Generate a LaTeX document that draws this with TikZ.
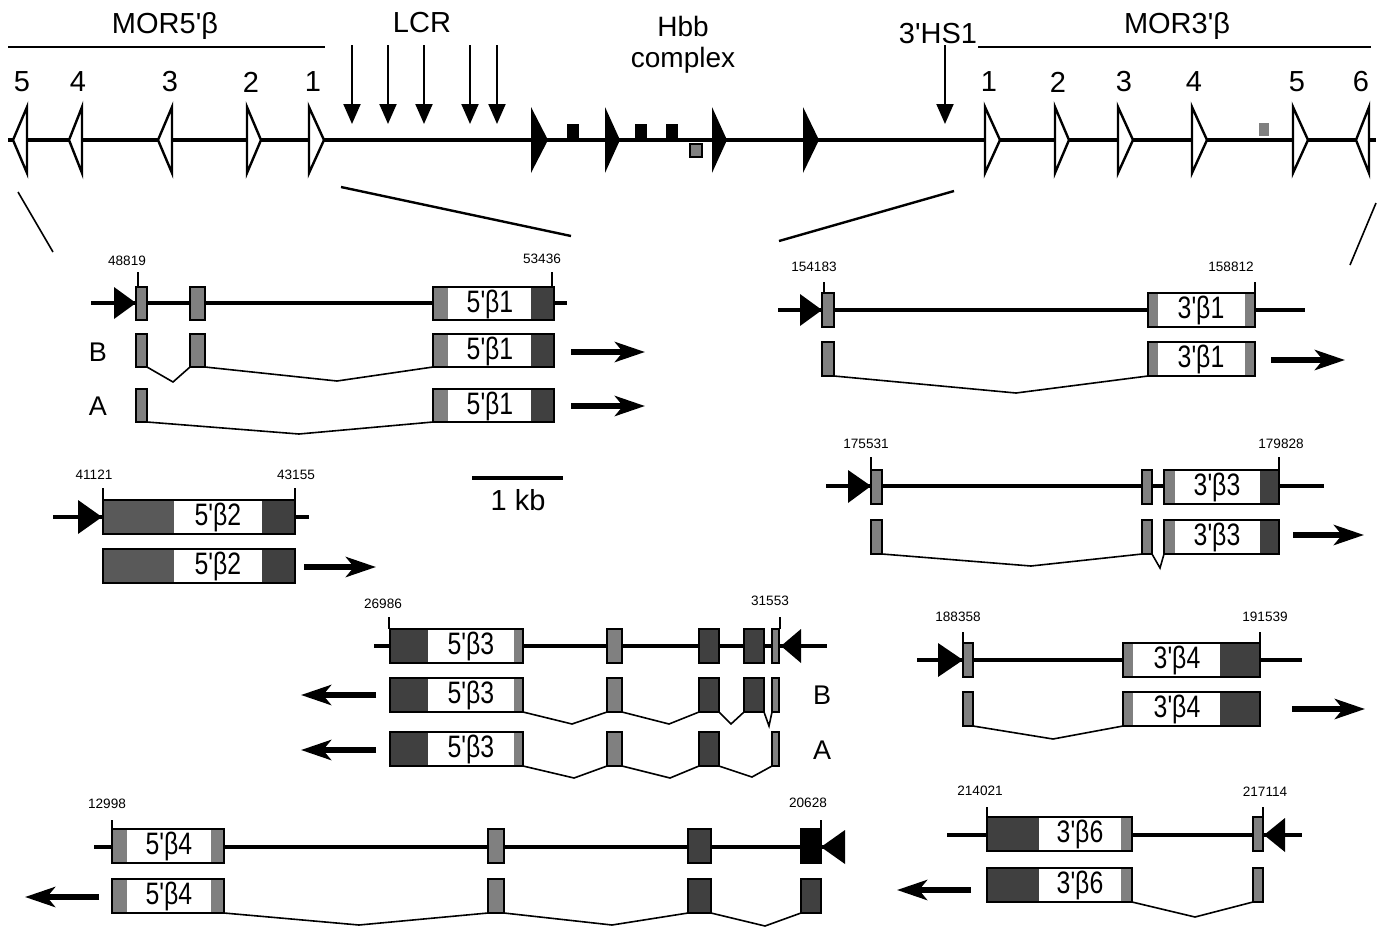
\documentclass[tikz,border=0pt]{standalone}
\usepackage{fontspec}
\setmainfont{Liberation Sans}[Ligatures=TeXOff]
\newfontfamily\genefont{Liberation Sans}[Ligatures=TeXOff,FakeStretch=0.8]
\usepackage{tikz}
\usetikzlibrary{arrows.meta}
\definecolor{exon mid}{gray}{0.5}
\definecolor{exon dark}{gray}{0.25}
\definecolor{exon deep}{gray}{0.35}
\newcommand{\q}{'}

\begin{document}
\begin{tikzpicture}[x=0.5pt, y=-0.5pt,
    font=\fontsize{14.5}{16}\selectfont,
    chrom/.style={line width=1.8pt},
    gline/.style={line width=1.7pt},
    boxline/.style={line width=1.1pt},
    exonbox/.style={draw, line width=1.1pt, fill=exon mid},
    darkbox/.style={draw, line width=1.1pt, fill=exon dark},
    splice/.style={line width=0.8pt},
    tickline/.style={line width=0.6pt},
    orf/.style={draw, line width=1.2pt, fill=white, line join=miter},
    hsarrow/.style={line width=1pt, -{Triangle[length=10pt,width=8.5pt]}},
    dirarrow/.style={line width=3pt, -{Stealth[length=15pt,width=10pt,inset=4pt]}},
    coordlbl/.style={font=\fontsize{6.8}{7}\selectfont},
    gname/.style={font=\genefont\fontsize{15.5}{16}\selectfont},
    iso/.style={font=\fontsize{13.5}{15}\selectfont}]
\useasboundingbox (0,0) rectangle (1388,928);

% locus overview
\draw[line width=0.8pt] (8,47) -- (325,47);
\draw[line width=0.8pt] (978,47) -- (1371,47);
\node (mor5) at (165,26) {MOR5\q β};
\node (mor3) at (1177,26) {MOR3\q β};
\node (lcr) at (422,23) {LCR};
\node[align=center, font=\fontsize{14}{15.5}\selectfont] (hbb) at (683,45) {Hbb\\complex};
\node (hs1) at (938,34) {3\q HS1};
\draw[chrom] (8,140) -- (1376,140);
\foreach \b/\t in {27/13, 82/69, 172/158, 247/261, 309/324, 985/1000, 1055/1069, 1118/1133, 1192/1207, 1293/1308, 1369/1356}
  \draw[orf] (\b,107) -- (\t,140) -- (\b,173) -- cycle;
\foreach \x/\n in {22/5, 78/4, 170/3, 251/2, 313/1}
  \node (l\n) at (\x,82) {\n};
\foreach \x/\n in {989/1, 1058/2, 1124/3, 1194/4, 1297/5, 1361/6}
  \node (r\n) at (\x,82) {\n};
\foreach \x in {352,388,424,470,497,945}
  \draw[hsarrow] (\x,45) -- (\x,124);
\foreach \b/\t in {531/548, 605/620, 712/727, 803/819}
  \fill (\b,107) -- (\t,140) -- (\b,173) -- cycle;
\fill (567,124) rectangle (579,140);
\fill (635,124) rectangle (647,140);
\fill (666,124) rectangle (678,140);
\draw[fill=exon mid, line width=0.8pt] (690,144) rectangle (702,157);
\fill[exon mid] (1259,123) rectangle (1269,136);
\draw[line width=0.8pt] (18,192) -- (53,252);
\draw[line width=1.2pt] (341,187) -- (571,236);
\draw[line width=1.2pt] (779,241) -- (954,191);
\draw[line width=0.8pt] (1376,203) -- (1350,265);

% scale
\draw[line width=2pt] (472,478) -- (563,478);
\node (kb) at (518,500) {1 kb};

% 5'b1
\node[coordlbl] (p48819) at (127,261) {48819};
\node[coordlbl] (p53436) at (542,259) {53436};
\draw[tickline] (138,272) -- (138,287) (552,272) -- (552,287);
\draw[gline] (91,303) -- (567,303);
\fill (114,287) -- (136,303) -- (114,319) -- cycle;
\foreach \y in {287,334,389} {
  \fill[white] (433,\y) rectangle (554,\y+33);
  \fill[exon mid] (433,\y) rectangle (448,\y+33);
  \fill[exon dark] (531,\y) rectangle (554,\y+33);
  \draw[boxline] (433,\y) rectangle (554,\y+33);
  \node[gname] (g51\y) at (490,\y+17) {5\q β1};
  \draw[exonbox] (136,\y) rectangle (147,\y+33);
}
\foreach \y in {287,334}
  \draw[exonbox] (190,\y) rectangle (205,\y+33);
\draw[splice] (147,367) -- (173,382) -- (190,367) (205,367) -- (337,381) -- (433,367);
\draw[splice] (147,422) -- (299,434) -- (433,422);
\node[iso] (b1B) at (98,352) {B};
\node[iso] (b1A) at (98,406) {A};
\draw[dirarrow] (571,352) -- (645,352);
\draw[dirarrow] (571,406) -- (645,406);

% 3'b1
\node[coordlbl] (p154183) at (814,267) {154183};
\node[coordlbl] (p158812) at (1231,267) {158812};
\draw[tickline] (824,282) -- (824,293) (1255,282) -- (1255,293);
\draw[gline] (778,310) -- (1305,310);
\fill (800,294) -- (822,310) -- (800,326) -- cycle;
\foreach \y in {293,342} {
  \fill[white] (1148,\y) rectangle (1255,\y+34);
  \fill[exon mid] (1148,\y) rectangle (1158,\y+34);
  \fill[exon mid] (1245,\y) rectangle (1255,\y+34);
  \draw[boxline] (1148,\y) rectangle (1255,\y+34);
  \node[gname] (g31\y) at (1201,\y+17) {3\q β1};
  \draw[exonbox] (822,\y) rectangle (834,\y+34);
}
\draw[splice] (834,376) -- (1016,393) -- (1148,376);
\draw[dirarrow] (1271,360) -- (1345,360);

% 5'b2
\node[coordlbl] (p41121) at (94,475) {41121};
\node[coordlbl] (p43155) at (296,475) {43155};
\draw[tickline] (103,488) -- (103,500) (295,488) -- (295,500);
\draw[gline] (53,517) -- (309,517);
\fill (78,500) -- (102,517) -- (78,534) -- cycle;
\foreach \y in {500,549} {
  \fill[white] (103,\y) rectangle (295,\y+34);
  \fill[exon deep] (103,\y) rectangle (174,\y+34);
  \fill[exon dark] (262,\y) rectangle (295,\y+34);
  \draw[boxline] (103,\y) rectangle (295,\y+34);
  \node[gname] (g52\y) at (218,\y+17) {5\q β2};
}
\draw[dirarrow] (304,567) -- (376,567);

% 3'b3
\node[coordlbl] (p175531) at (866,444) {175531};
\node[coordlbl] (p179828) at (1281,444) {179828};
\draw[tickline] (871,457) -- (871,470) (1279,457) -- (1279,470);
\draw[gline] (826,486) -- (1324,486);
\fill (848,470) -- (871,486) -- (848,503) -- cycle;
\foreach \y in {470,520} {
  \fill[white] (1164,\y) rectangle (1279,\y+34);
  \fill[exon mid] (1164,\y) rectangle (1175,\y+34);
  \fill[exon dark] (1260,\y) rectangle (1279,\y+34);
  \draw[boxline] (1164,\y) rectangle (1279,\y+34);
  \node[gname] (g33\y) at (1217,\y+17) {3\q β3};
  \draw[exonbox] (871,\y) rectangle (882,\y+34);
  \draw[exonbox] (1142,\y) rectangle (1152,\y+34);
}
\draw[splice] (882,554) -- (1031,566) -- (1142,554) (1152,554) -- (1160,568) -- (1164,554);
\draw[dirarrow] (1293,535) -- (1364,535);

% 5'b3
\node[coordlbl] (p26986) at (383,604) {26986};
\node[coordlbl] (p31553) at (770,601) {31553};
\draw[tickline] (389,617) -- (389,629) (780,617) -- (780,629);
\draw[gline] (374,646) -- (827,646);
\fill (801,629) -- (781,646) -- (801,663) -- cycle;
\foreach \y in {629,678,732} {
  \fill[white] (390,\y) rectangle (523,\y+34);
  \fill[exon dark] (390,\y) rectangle (428,\y+34);
  \fill[exon mid] (514,\y) rectangle (523,\y+34);
  \draw[boxline] (390,\y) rectangle (523,\y+34);
  \node[gname] (g53\y) at (471,\y+17) {5\q β3};
  \draw[exonbox] (607,\y) rectangle (622,\y+34);
  \draw[darkbox] (699,\y) rectangle (719,\y+34);
  \draw[exonbox] (772,\y) rectangle (779,\y+34);
}
\foreach \y in {629,678}
  \draw[darkbox] (744,\y) rectangle (764,\y+34);
\draw[splice] (523,712) -- (572,724) -- (607,712) (622,712) -- (669,724) -- (699,712)
  (719,712) -- (731,724) -- (744,712) (764,712) -- (769,726) -- (772,712);
\draw[splice] (523,766) -- (574,778) -- (607,766) (622,766) -- (670,778) -- (699,766)
  (719,766) -- (752,777) -- (772,766);
\node[iso] (b3B) at (822,695) {B};
\node[iso] (b3A) at (822,750) {A};
\draw[dirarrow] (376,695) -- (301,695);
\draw[dirarrow] (376,750) -- (301,750);

% 3'b4
\node[coordlbl] (p188358) at (958,617) {188358};
\node[coordlbl] (p191539) at (1265,617) {191539};
\draw[tickline] (963,632) -- (963,643) (1260,632) -- (1260,643);
\draw[gline] (917,660) -- (1302,660);
\fill (938,643) -- (963,660) -- (938,677) -- cycle;
\foreach \y in {643,692} {
  \fill[white] (1123,\y) rectangle (1260,\y+34);
  \fill[exon mid] (1123,\y) rectangle (1133,\y+34);
  \fill[exon dark] (1220,\y) rectangle (1260,\y+34);
  \draw[boxline] (1123,\y) rectangle (1260,\y+34);
  \node[gname] (g34\y) at (1177,\y+17) {3\q β4};
  \draw[exonbox] (963,\y) rectangle (973,\y+34);
}
\draw[splice] (973,726) -- (1053,739) -- (1123,726);
\draw[dirarrow] (1292,709) -- (1365,709);

% 5'b4
\node[coordlbl] (p12998) at (107,804) {12998};
\node[coordlbl] (p20628) at (808,803) {20628};
\draw[tickline] (112,820) -- (112,829) (821,820) -- (821,829);
\draw[gline] (94,847) -- (845,847);
\fill (845,830) -- (821,847) -- (845,864) -- cycle;
\foreach \y in {829,879} {
  \fill[white] (112,\y) rectangle (224,\y+34);
  \fill[exon mid] (112,\y) rectangle (127,\y+34);
  \fill[exon mid] (211,\y) rectangle (224,\y+34);
  \draw[boxline] (112,\y) rectangle (224,\y+34);
  \node[gname] (g54\y) at (169,\y+17) {5\q β4};
  \draw[exonbox] (488,\y) rectangle (504,\y+34);
  \draw[darkbox] (688,\y) rectangle (711,\y+34);
}
\draw[boxline, fill=black] (801,829) rectangle (821,863);
\draw[darkbox] (801,879) rectangle (821,913);
\draw[splice] (224,913) -- (359,925) -- (488,913) (504,913) -- (612,925) -- (688,913)
  (711,913) -- (765,926) -- (801,913);
\draw[dirarrow] (99,897) -- (25,897);

% 3'b6
\node[coordlbl] (p214021) at (980,791) {214021};
\node[coordlbl] (p217114) at (1265,792) {217114};
\draw[tickline] (987,807) -- (987,817) (1263,807) -- (1263,817);
\draw[gline] (947,835) -- (1302,835);
\fill (1285,818) -- (1264,835) -- (1285,852) -- cycle;
\foreach \y in {817,868} {
  \fill[white] (987,\y) rectangle (1132,\y+34);
  \fill[exon dark] (987,\y) rectangle (1039,\y+34);
  \fill[exon mid] (1121,\y) rectangle (1132,\y+34);
  \draw[boxline] (987,\y) rectangle (1132,\y+34);
  \node[gname] (g36\y) at (1080,\y+17) {3\q β6};
  \draw[exonbox] (1253,\y) rectangle (1263,\y+34);
}
\draw[splice] (1132,902) -- (1195,917) -- (1253,902);
\draw[dirarrow] (971,890) -- (897,890);
\end{tikzpicture}
\end{document}
